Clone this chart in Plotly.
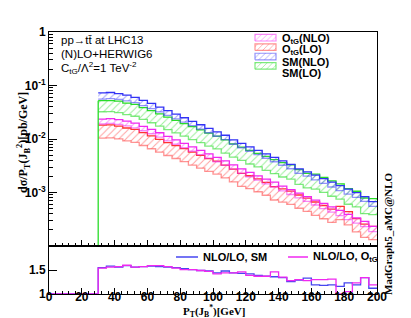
import plotly.graph_objects as go

# ---------------- data ----------------
bin_edges = [30, 35, 40, 45, 50, 55, 60, 65, 70, 75, 80, 85, 90, 95, 100, 105, 110, 115,
             120, 125, 130, 135, 140, 145, 150, 155, 160, 165, 170, 175, 180, 185, 190, 195, 200]

# central NLO values [pb/GeV]
sm_nlo = [0.0637, 0.0650, 0.0623, 0.0584, 0.0536, 0.0471, 0.0414, 0.0356, 0.0306, 0.0264,
          0.0227, 0.0195, 0.0168, 0.0144, 0.0124, 0.0107, 0.00879, 0.00756, 0.00650, 0.00560,
          0.00481, 0.00414, 0.00356, 0.00306, 0.00252, 0.00222, 0.00191, 0.00164, 0.00141,
          0.00121, 0.00104, 0.000898, 0.000756, 0.000610]
tg_nlo = [0.0212, 0.0217, 0.0208, 0.0195, 0.0179, 0.0157, 0.0138, 0.0119, 0.0102, 0.00879,
          0.00756, 0.00650, 0.00560, 0.00481, 0.00414, 0.00356, 0.00300, 0.00252, 0.00217,
          0.00187, 0.00161, 0.00141, 0.00119, 0.00102, 0.000879, 0.000756, 0.000650, 0.000560,
          0.000481, 0.000414, 0.000348, 0.000300, 0.000258, 0.000208]

# NLO/LO ratios (lower panel)
ratio_sm = [1.55, 1.58, 1.56, 1.59, 1.56, 1.57, 1.58, 1.57, 1.56, 1.55, 1.53, 1.51, 1.49, 1.48,
            1.44, 1.48, 1.44, 1.43, 1.42, 1.39, 1.37, 1.36, 1.34, 1.26, 1.29, 1.33, 1.19, 1.18,
            1.19, 1.16, 1.23, 1.19, 1.34, 1.12]
ratio_tg = [1.54, 1.56, 1.57, 1.60, 1.56, 1.57, 1.59, 1.59, 1.57, 1.54, 1.51, 1.51, 1.49, 1.47,
            1.42, 1.44, 1.44, 1.46, 1.39, 1.37, 1.37, 1.46, 1.35, 1.28, 1.30, 1.28, 1.30, 1.30,
            1.31, 1.00, 1.05, 1.23, 1.34, 1.19]

# scale-uncertainty factors (band = central*f ... central/f)
f_sm_nlo = [1.14, 1.14, 1.13, 1.13, 1.12, 1.12, 1.12, 1.11, 1.11, 1.11, 1.10, 1.10, 1.10, 1.10,
            1.10, 1.10, 1.10, 1.10, 1.10, 1.10, 1.10, 1.10, 1.10, 1.10, 1.10, 1.10, 1.11, 1.11,
            1.11, 1.11, 1.11, 1.11, 1.11, 1.11]
f_sm_lo = [1.27, 1.27, 1.28, 1.28, 1.29, 1.29, 1.30, 1.30, 1.31, 1.31, 1.31, 1.32, 1.32, 1.32,
           1.32, 1.33, 1.33, 1.33, 1.34, 1.34, 1.35, 1.35, 1.36, 1.36, 1.37, 1.37, 1.38, 1.38,
           1.39, 1.39, 1.40, 1.40, 1.40, 1.41]
f_tg_nlo = [1.11, 1.11, 1.11, 1.11, 1.11, 1.10, 1.10, 1.10, 1.10, 1.10, 1.10, 1.10, 1.10, 1.10,
            1.10, 1.10, 1.10, 1.10, 1.10, 1.10, 1.11, 1.11, 1.11, 1.11, 1.11, 1.11, 1.11, 1.12,
            1.12, 1.12, 1.12, 1.12, 1.12, 1.12]
f_tg_lo = [1.32, 1.32, 1.32, 1.32, 1.32, 1.32, 1.32, 1.32, 1.32, 1.32, 1.32, 1.32, 1.32, 1.32,
           1.32, 1.32, 1.32, 1.32, 1.32, 1.32, 1.32, 1.33, 1.33, 1.33, 1.33, 1.33, 1.33, 1.33,
           1.33, 1.33, 1.33, 1.33, 1.33, 1.33]

x_tick_vals = [0, 20, 40, 60, 80, 100, 120, 140, 160, 180, 200]
y_tick_vals = [1e-3, 1e-2, 1e-1, 1]
y_tick_text = ["10<sup>-3</sup>", "10<sup>-2</sup>", "10<sup>-1</sup>", "1"]
r_tick_vals = [1, 1.5]
r_tick_text = ["1", "1.5"]

band_names = ["O<sub>tG</sub>(NLO)", "O<sub>tG</sub>(LO)", "SM(NLO)", "SM(LO)"]
ratio_names = ["NLO/LO, SM", "NLO/LO, O<sub>tG</sub>"]
info_lines = ["pp→tt\u0304 at LHC13", "(N)LO+HERWIG6",
              "C<sub>tG</sub>/Λ<sup>2</sup>=1 TeV<sup>-2</sup>"]

# ---------------- derived ----------------
sm_lo = [n / r for n, r in zip(sm_nlo, ratio_sm)]
tg_lo = [n / r for n, r in zip(tg_nlo, ratio_tg)]


def step(vals):
    return list(vals) + [vals[-1]]


# figure geometry (pixels) for paper-coordinate helpers
W, H = 411, 318
ML, MR, MT, MB = 41, 42, 24, 32
PW, PH = W - ML - MR, H - MT - MB


def px(xp):
    return (xp - ML) / PW


def py(yp):
    return (H - MB - yp) / PH


colors = {
    "tg_nlo": ("rgb(240,40,240)", "rgba(240,40,240,0.55)", "rgba(250,80,250,0.6)"),
    "tg_lo": ("rgb(255,50,50)", "rgba(255,60,60,0.55)", "rgba(255,80,80,0.55)"),
    "sm_nlo": ("rgb(50,50,245)", "rgba(60,60,245,0.55)", "rgba(80,80,250,0.55)"),
    "sm_lo": ("rgb(40,220,40)", "rgba(40,220,40,0.6)", "rgba(70,225,70,0.55)"),
}
keys = ["tg_nlo", "tg_lo", "sm_nlo", "sm_lo"]
data = {"tg_nlo": (tg_nlo, f_tg_nlo), "tg_lo": (tg_lo, f_tg_lo),
        "sm_nlo": (sm_nlo, f_sm_nlo), "sm_lo": (sm_lo, f_sm_lo)}

fig = go.Figure()

for key in ["sm_lo", "sm_nlo", "tg_lo", "tg_nlo"]:
    cen, fac = data[key]
    dark, light, hatch = colors[key]
    upper = [c * f for c, f in zip(cen, fac)]
    lower = [c / f for c, f in zip(cen, fac)]
    fig.add_trace(go.Scatter(
        x=bin_edges, y=step(lower), mode="lines", line=dict(color=light, width=1.3, shape="hv"),
        showlegend=False, hoverinfo="skip", xaxis="x", yaxis="y"))
    fig.add_trace(go.Scatter(
        x=bin_edges, y=step(upper), mode="lines", line=dict(color=dark, width=1.3, shape="hv"),
        fill="tonexty", fillcolor="rgba(0,0,0,0)",
        fillpattern=dict(shape="/", fgcolor=hatch, size=5, solidity=0.2, fillmode="replace"),
        showlegend=False, hoverinfo="skip", xaxis="x", yaxis="y"))

# left vertical edge of SM LO histogram
fig.add_trace(go.Scatter(
    x=[bin_edges[0], bin_edges[0]], y=[1e-4, sm_lo[0] * f_sm_lo[0]], mode="lines",
    line=dict(color="rgb(40,220,40)", width=1.3), showlegend=False, hoverinfo="skip",
    xaxis="x", yaxis="y"))

# ratio panel
rx = [0] + bin_edges
ratio_colors = ["rgb(70,70,240)", "rgb(240,40,240)"]
for vals, col in zip([ratio_sm, ratio_tg], ratio_colors):
    fig.add_trace(go.Scatter(
        x=rx, y=[1] + step(vals), mode="lines", line=dict(color=col, width=1.3, shape="hv"),
        showlegend=False, xaxis="x2", yaxis="y2", hoverinfo="skip"))

# ---------------- manual legends (paper-space overlay axis) ----------------
leg_font = dict(family="Liberation Sans, Arial, sans-serif", size=11, color="black", weight="bold")
row_y = [31, 42.5, 54, 65.5]
for key, name, ry in zip(keys, band_names, row_y):
    dark, light, hatch = colors[key]
    x0, x1 = px(247), px(268)
    y0, y1 = py(ry + 4), py(ry - 4)
    fig.add_trace(go.Scatter(
        x=[x0, x1, x1, x0, x0], y=[y0, y0, y1, y1, y0], mode="lines", fill="toself",
        fillcolor="rgba(0,0,0,0)", line=dict(color=light, width=1.2),
        fillpattern=dict(shape="/", fgcolor=hatch, size=4, solidity=0.2, fillmode="replace"),
        showlegend=False, hoverinfo="skip", xaxis="x3", yaxis="y3"))
    fig.add_annotation(xref="paper", yref="paper", x=px(272), y=py(ry), xanchor="left",
                       yanchor="middle", showarrow=False, text=name, font=leg_font)

leg2_x = [(168, 190, 193), (280, 300, 303)]
for (sx0, sx1, tx), name, col in zip(leg2_x, ratio_names, ratio_colors):
    fig.add_shape(type="line", xref="paper", yref="paper", x0=px(sx0), x1=px(sx1),
                  y0=py(249), y1=py(249), line=dict(color=col, width=1.5))
    fig.add_annotation(xref="paper", yref="paper", x=px(tx), y=py(249), xanchor="left",
                       yanchor="middle", showarrow=False, text=name,
                       font=dict(family="Liberation Sans, Arial, sans-serif", size=11,
                                 color="black", weight="bold"))

tickfont = dict(family="Liberation Sans, Arial, sans-serif", size=12, color="black", weight="bold")
axis_common = dict(showline=True, linecolor="black", linewidth=1, mirror=True, ticks="inside",
                   showgrid=False, zeroline=False, tickcolor="black")

minor_log = [k * 10 ** e for e in (-4, -3, -2, -1) for k in range(2, 10)]

fig.update_layout(
    width=W, height=H,
    margin=dict(l=ML, r=MR, t=MT, b=MB),
    paper_bgcolor="white", plot_bgcolor="white", showlegend=False,
    font=dict(family="Liberation Sans, Arial, sans-serif", color="black"),
    xaxis=dict(domain=[0, 1], range=[0, 200], anchor="y", showticklabels=False,
               tickvals=x_tick_vals, ticklen=6,
               minor=dict(ticks="inside", dtick=4, ticklen=3, tickcolor="black"),
               **axis_common),
    yaxis=dict(domain=[0.183, 1], type="log", range=[-4, 0], anchor="x",
               tickvals=y_tick_vals, ticktext=y_tick_text, ticklen=8, tickfont=tickfont,
               minor=dict(ticks="inside", tickvals=minor_log, ticklen=4, tickcolor="black"),
               **axis_common),
    xaxis2=dict(domain=[0, 1], range=[0, 200], anchor="y2", tickvals=x_tick_vals, tickfont=tickfont,
                ticklen=6, ticklabelstandoff=-8,
                minor=dict(ticks="inside", dtick=4, ticklen=3, tickcolor="black"),
                **axis_common),
    yaxis2=dict(domain=[0, 0.183], range=[1, 2], anchor="x2", tickvals=r_tick_vals,
                ticktext=r_tick_text, ticklen=8, tickfont=tickfont, **axis_common),
    xaxis3=dict(domain=[0, 1], range=[0, 1], anchor="y3", overlaying="x", visible=False),
    yaxis3=dict(domain=[0, 1], range=[0, 1], anchor="x3", overlaying="y", visible=False),
)

# texts
for line, ly in zip(info_lines, [32, 46, 60]):
    fig.add_annotation(xref="paper", yref="paper", x=px(51), y=py(ly), xanchor="left",
                       yanchor="middle", showarrow=False, text=line,
                       font=dict(family="Liberation Sans, Arial, sans-serif", size=11.5, color="black"))
fig.add_annotation(xref="paper", yref="paper", x=px(15), y=py(135), xanchor="center", yanchor="middle",
                   showarrow=False, textangle=-90,
                   text="<b>dσ/P<sub>T</sub>(J<sub>B</sub><sup>2</sup>)[pb/GeV]</b>",
                   font=dict(family="Liberation Serif, Times New Roman, serif", size=12, color="black"))
fig.add_annotation(xref="paper", yref="paper", x=px(206), y=py(303), xanchor="center", yanchor="middle",
                   showarrow=False,
                   text="<b>P<sub>T</sub>(J<sub>B</sub><sup>*</sup>)[GeV]</b>",
                   font=dict(family="Liberation Serif, Times New Roman, serif", size=11, color="black"))
fig.add_annotation(xref="paper", yref="paper", x=px(380), y=py(226), xanchor="center", yanchor="middle",
                   showarrow=False, textangle=-90,
                   text="<b>MadGraph5_aMC@NLO</b>",
                   font=dict(family="Liberation Serif, Times New Roman, serif", size=11, color="black"))

fig.write_html("out.html")
